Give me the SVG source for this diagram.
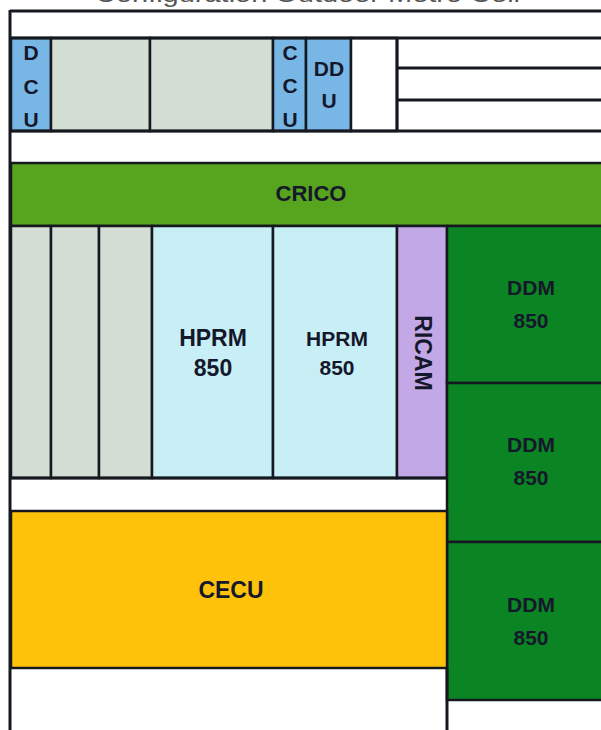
<svg xmlns="http://www.w3.org/2000/svg" width="601" height="730" viewBox="0 0 601 730">
<style>
.ln{stroke:#161820;stroke-width:3;fill:none}
.bx{stroke:#161820;stroke-width:2.5}
.t{font-family:"Liberation Sans",Arial,sans-serif;font-weight:bold;fill:#15182a;text-anchor:middle}
.blue{fill:#78b6e6}
.gray{fill:#d4ddd4}
.cyan{fill:#c8eef6}
.ddm{fill:#0b8424}
</style>
<rect x="0" y="0" width="601" height="730" fill="#ffffff"/>
<text x="95" y="2" font-family="Liberation Sans,Arial,sans-serif" font-size="22" fill="#555" textLength="425" lengthAdjust="spacingAndGlyphs">Configuration Outdoor Metro Cell</text>

<g id="frame">
<line class="ln" x1="10" y1="11" x2="601" y2="11"/>
<line class="ln" x1="10" y1="10" x2="10" y2="730"/>
</g>

<g id="top-row">
<g id="dcu"><rect class="bx blue" x="11" y="38" width="40" height="93"/>
<text class="t" font-size="21" x="31" y="60">D</text><text class="t" font-size="21" x="31" y="94">C</text><text class="t" font-size="21" x="31" y="127">U</text></g>
<g id="slot1"><rect class="bx gray" x="51" y="38" width="99" height="93"/></g>
<g id="slot2"><rect class="bx gray" x="150" y="38" width="123" height="93"/></g>
<g id="ccu"><rect class="bx blue" x="273" y="38" width="33" height="93"/>
<text class="t" font-size="21" x="290" y="60">C</text><text class="t" font-size="21" x="290" y="93">C</text><text class="t" font-size="21" x="290" y="127">U</text></g>
<g id="ddu"><rect class="bx blue" x="306" y="38" width="45" height="93"/>
<text class="t" font-size="21" x="329" y="76">DD</text><text class="t" font-size="21" x="329" y="108">U</text></g>
<g id="blank"><rect class="bx" fill="#fff" x="351" y="38" width="46" height="93"/></g>
<g id="shelves">
<line class="ln" x1="10" y1="38" x2="601" y2="38"/>
<line class="ln" x1="10" y1="131" x2="601" y2="131"/>
<line class="ln" x1="397" y1="38" x2="397" y2="131"/>
<line class="ln" x1="397" y1="68" x2="601" y2="68"/>
<line class="ln" x1="397" y1="100" x2="601" y2="100"/>
</g>
</g>

<g id="crico"><rect class="bx" fill="#57a41e" x="11" y="163" width="592" height="63"/>
<text class="t" font-size="22" x="311" y="201" fill="#1a2418">CRICO</text></g>

<g id="mid-row">
<rect class="bx gray" x="11" y="226" width="40" height="252"/>
<rect class="bx gray" x="51" y="226" width="48" height="252"/>
<rect class="bx gray" x="99" y="226" width="53" height="252"/>
<g id="hprm1"><rect class="bx cyan" x="152" y="226" width="121" height="252"/>
<text class="t" font-size="23" x="213" y="346">HPRM</text><text class="t" font-size="23" x="213" y="376">850</text></g>
<g id="hprm2"><rect class="bx cyan" x="273" y="226" width="124" height="252"/>
<text class="t" font-size="21" x="337" y="346">HPRM</text><text class="t" font-size="21" x="337" y="375">850</text></g>
<g id="ricam"><rect class="bx" fill="#c3a8e8" x="397" y="226" width="50" height="252"/>
<text class="t" font-size="23" transform="translate(415 353) rotate(90)">RICAM</text></g>
</g>

<g id="ddm1"><rect class="bx ddm" x="447" y="226" width="156" height="157"/>
<text class="t" font-size="21" x="531" y="295" fill="#1a2a1a">DDM</text><text class="t" font-size="21" x="531" y="328" fill="#1a2a1a">850</text></g>
<g id="ddm2"><rect class="bx ddm" x="447" y="383" width="156" height="159"/>
<text class="t" font-size="21" x="531" y="452" fill="#1a2a1a">DDM</text><text class="t" font-size="21" x="531" y="485" fill="#1a2a1a">850</text></g>
<g id="ddm3"><rect class="bx ddm" x="447" y="542" width="156" height="158"/>
<text class="t" font-size="21" x="531" y="612" fill="#1a2a1a">DDM</text><text class="t" font-size="21" x="531" y="645" fill="#1a2a1a">850</text></g>

<g id="cecu"><rect class="bx" fill="#ffc20a" x="11" y="511" width="436" height="157"/>
<text class="t" font-size="23" x="231" y="598">CECU</text></g>

<g id="lines">
<line class="ln" x1="447" y1="668" x2="447" y2="730"/>
<line class="ln" x1="10" y1="478" x2="447" y2="478"/>
</g>
</svg>
